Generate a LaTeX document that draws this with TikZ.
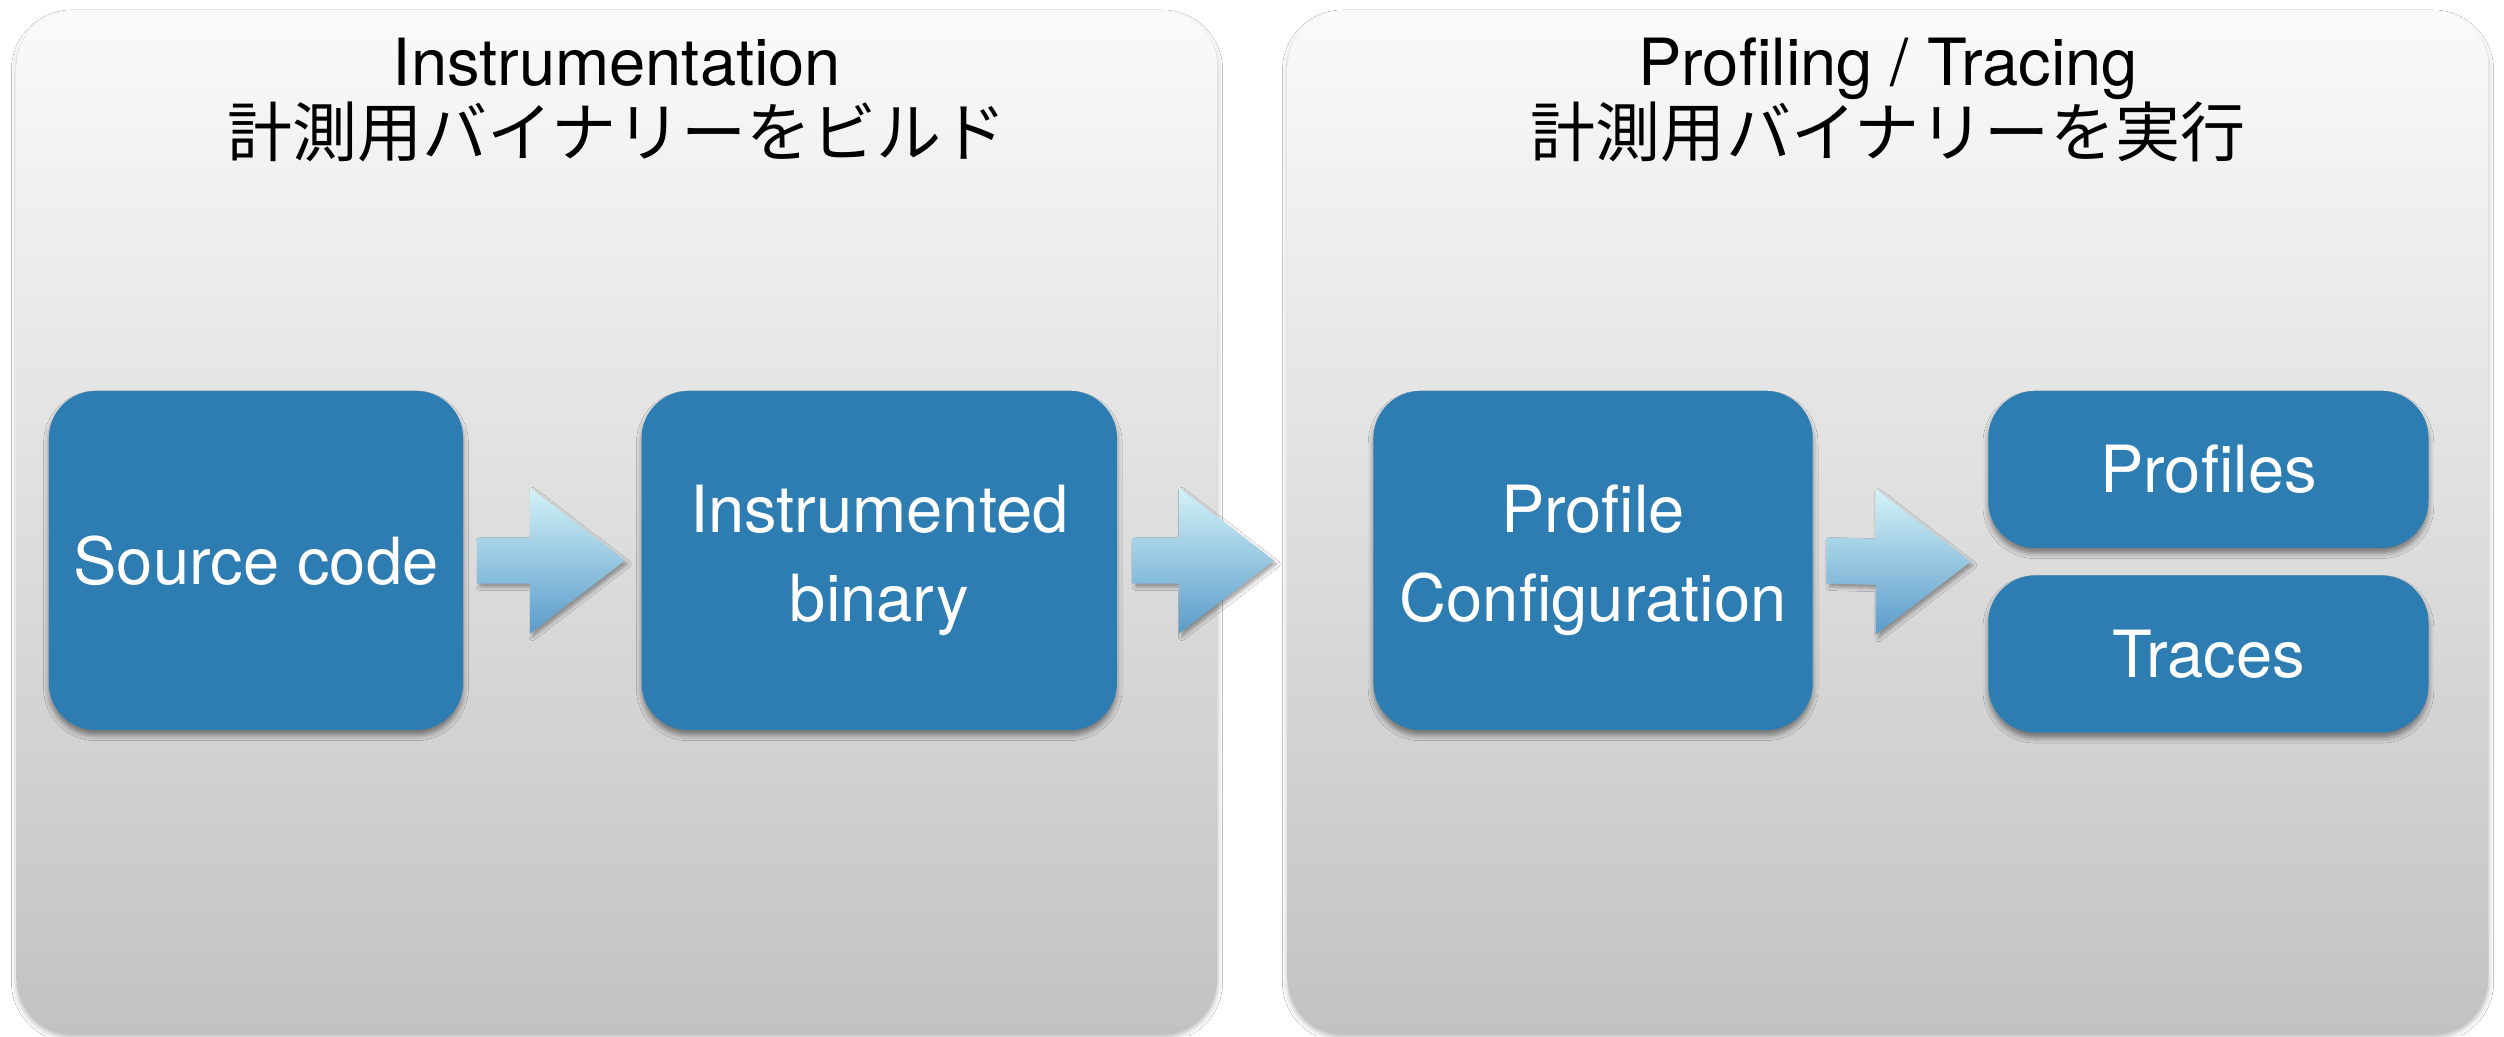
\documentclass[tikz,border=0pt]{standalone}
\usepackage{fontspec}
\setmainfont{TeX Gyre Heros}
\newfontfamily\jpfont{Noto Sans CJK JP}
\usepackage{tikz}
\usetikzlibrary{positioning,calc,shadows.blur}
\definecolor{StageTop}{HTML}{FAFAFA}
\definecolor{StageBot}{HTML}{C2C2C2}
\definecolor{StepBlue}{HTML}{2D7DB2}
\definecolor{FlowTop}{HTML}{D3F3F8}
\definecolor{FlowBot}{HTML}{5B9BCA}

% block arrow from tail point #1 to tip point #2
\newcommand{\flowarrow}[2]{%
  \path[flow] ($(#1)+(0,-23)$) -- ($(#2)+(-95,-23)$) -- ($(#2)+(-95,-73)$) -- (#2)
    -- ($(#2)+(-95,73)$) -- ($(#2)+(-95,23)$) -- ($(#1)+(0,23)$) -- cycle;}

\begin{document}
\begin{tikzpicture}[x=0.01cm,y=-0.01cm,
  stage/.style={rounded corners=0.55cm,minimum width=12cm,minimum height=10.21cm,
    top color=StageTop,bottom color=StageBot,
    blur shadow={shadow xshift=0pt,shadow yshift=-1pt,shadow blur radius=1.5pt,shadow opacity=30}},
  stagetitle/.style={align=center,inner sep=0pt,font=\fontsize{18.5}{20}\selectfont},
  stepbox/.style={fill=StepBlue,text=white,rounded corners=0.47cm,align=center,
    minimum height=3.39cm,font=\fontsize{18.5}{25.3}\selectfont,
    blur shadow={shadow xshift=0pt,shadow yshift=-1.5pt,shadow blur radius=1.5pt,shadow opacity=45}},
  flow/.style={top color=FlowTop,bottom color=FlowBot,
    blur shadow={shadow xshift=0.8pt,shadow yshift=-1pt,shadow blur radius=1pt,shadow opacity=35}},
]
\useasboundingbox (0,0) rectangle (2504,1036);
\fill[white] (0,0) rectangle (2504,1036);

% the two stages
\node[stage] (lstage) at (617,522.5) {};
\node[stage] (rstage) at (1888,522.5) {};
\node[stagetitle] (ltitle) at (617,100) {Instrumentation\\{\jpfont 計測用バイナリーをビルド}};
\node[stagetitle] (rtitle) at (1888,100) {Profiling / Tracing\\{\jpfont 計測用バイナリーを実行}};

% steps
\node[stepbox,minimum width=4.14cm] (src) at (256,560.5) {Source code};
\node[stepbox,minimum width=4.75cm,right=1.77cm of src] (bin) {Instrumented\\binary};
\node[stepbox,minimum width=4.39cm,right=2.55cm of bin] (conf) {Profile\\Configuration};
\node[stepbox,minimum width=4.4cm,minimum height=1.57cm,right=1.74cm of conf.north east,anchor=north west] (prof) {Profiles};
\node[stepbox,minimum width=4.4cm,minimum height=1.57cm,below=0.26cm of prof] (trc) {Traces};

% arrows between steps
\coordinate (f1a) at ($(src.east)+(13,0)$);
\coordinate (f1b) at ($(bin.west)+(-16,0)$);
\coordinate (f2a) at ($(bin.east)+(15,0)$);
\coordinate (f2b) at ($(bin.east -| rstage.west)+(-13,0)$);
\coordinate (f3a) at ($(conf.east)+(13,0)$);
\coordinate (f3b) at ($(prof.west)!0.5!(trc.west)+(-17,0)$);
\flowarrow{f1a}{f1b}
\flowarrow{f2a}{f2b}
\flowarrow{f3a}{f3b}
\end{tikzpicture}
\end{document}
